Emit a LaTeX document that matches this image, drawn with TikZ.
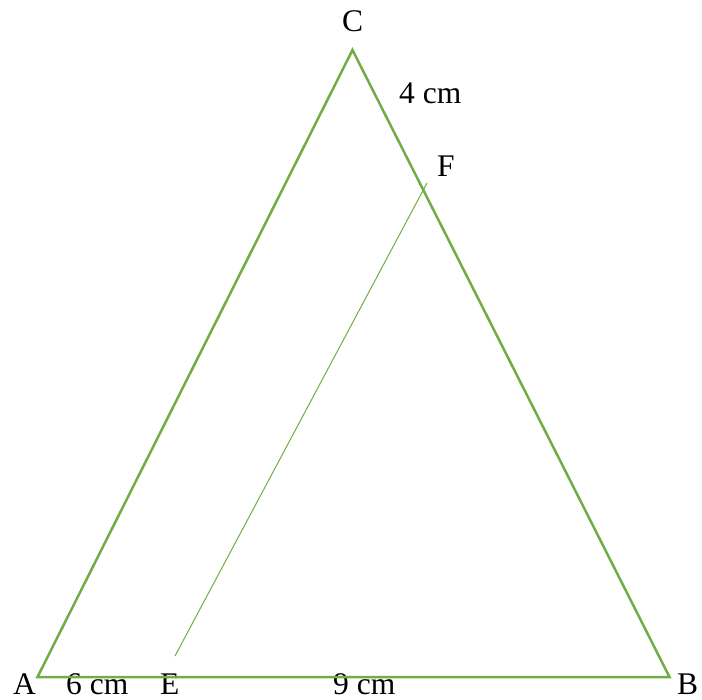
\documentclass[tikz,border=0pt]{standalone}
\usepackage{fontspec}
\setmainfont{Liberation Serif}
\definecolor{tgreen}{RGB}{112,173,71}
\begin{document}
\begin{tikzpicture}[x=1pt,y=-1pt,
  lbl/.style={anchor=base west,inner sep=0pt,font=\fontsize{31.5}{36}\selectfont},
  side/.style={draw=tgreen,line width=2.5pt,line join=miter},
  thin/.style={draw=tgreen,line width=1pt}]
\useasboundingbox (0,0) rectangle (702,700);
\coordinate (A) at (37.5,677);
\coordinate (B) at (669.5,677);
\coordinate (C) at (352.5,50);
\coordinate (E) at (175,656);
\coordinate (F) at (427,183);
\node[lbl] (lA) at (13,694) {A};
\node[lbl] (l6) at (66,694) {6 cm};
\node[lbl] (lE) at (160,694) {E};
\node[lbl] (l9) at (333,694) {9 cm};
\node[lbl] (lB) at (677,694) {B};
\node[lbl] (lC) at (342,32) {C};
\node[lbl] (l4) at (399,104) {4 cm};
\node[lbl] (lF) at (437,177) {F};
\draw[side] (A) -- (B) -- (C) -- cycle;
\draw[thin] (E) -- (F);
\end{tikzpicture}
\end{document}
